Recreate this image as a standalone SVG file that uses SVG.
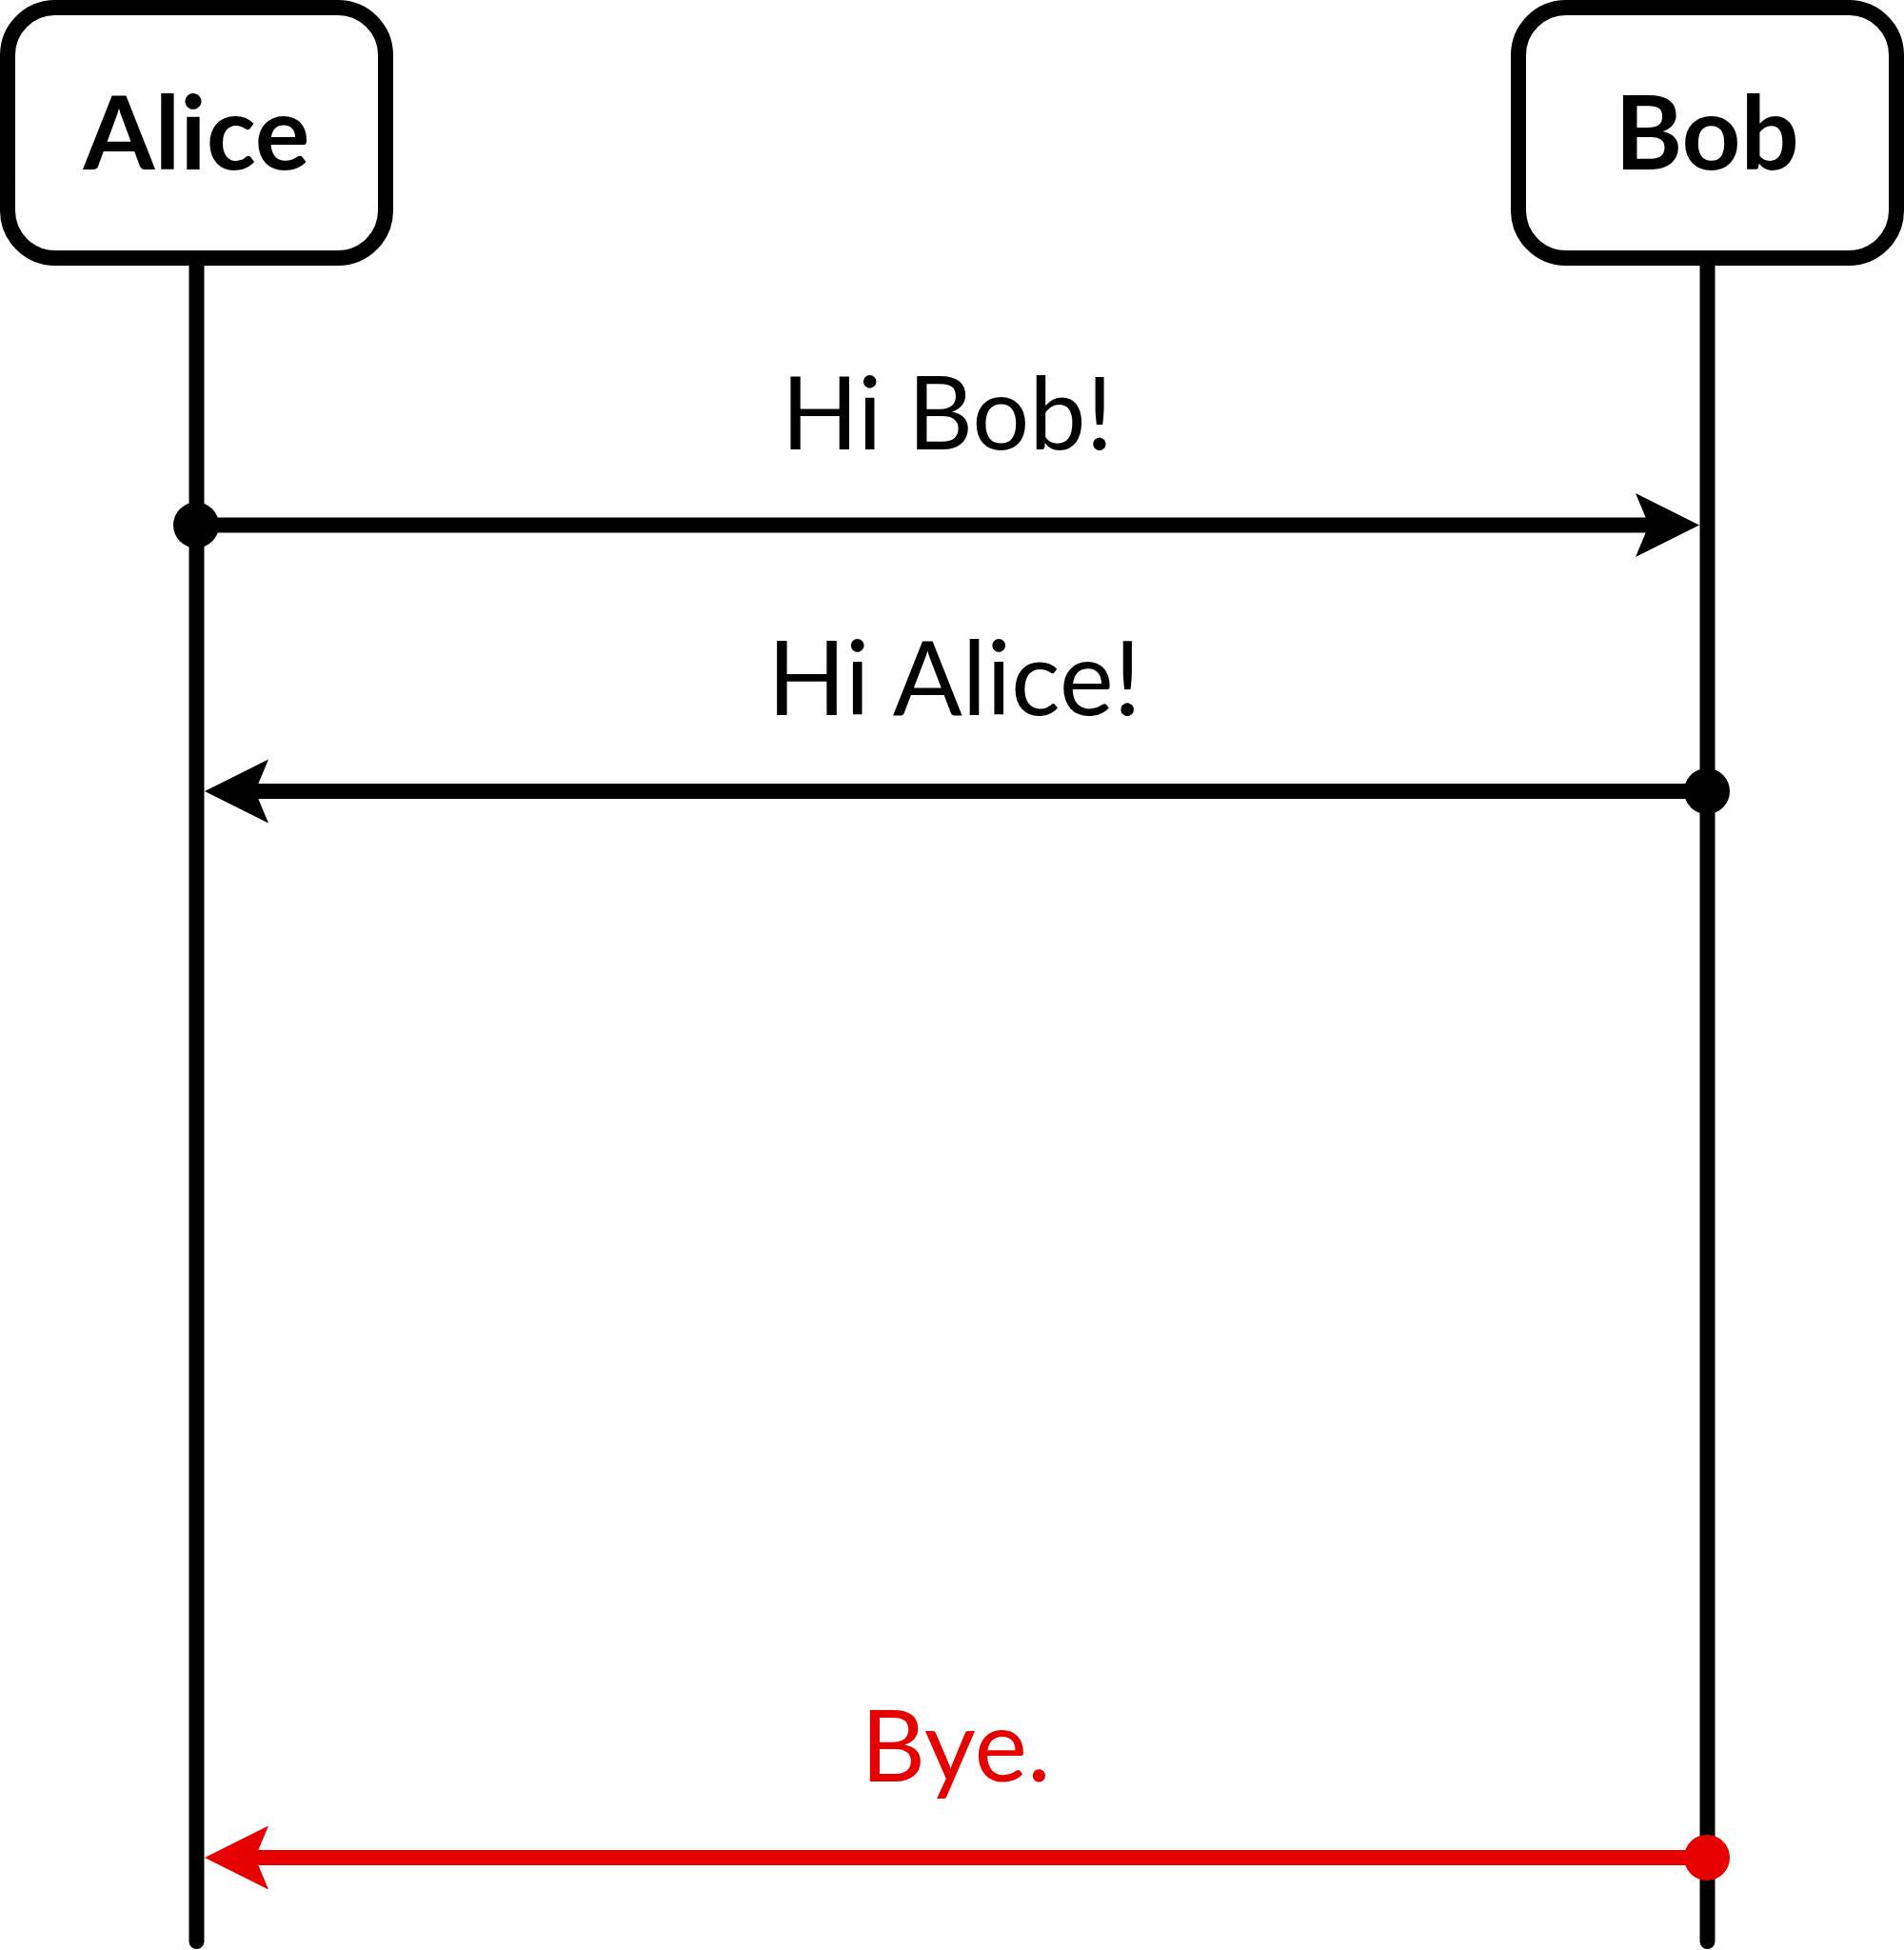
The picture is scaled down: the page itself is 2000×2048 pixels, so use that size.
<svg xmlns="http://www.w3.org/2000/svg" width="2000" height="2048" viewBox="0 0 2000 2048">
<defs>
<style>
.box{fill:#fff;stroke:#000;stroke-width:16}
.life{stroke:#000;stroke-width:16;stroke-linecap:round;fill:none}
.name{font-family:Lato,"Liberation Sans",sans-serif;font-weight:bold;font-size:108px;text-anchor:middle;fill:#000}
.lbl{font-family:Lato,"Liberation Sans",sans-serif;font-size:106px;text-anchor:middle}
.msg{stroke-width:16;fill:none}
</style>
</defs>
<rect width="2000" height="2048" fill="#fff"/>
<g id="lifelines">
<line class="life" x1="206.5" y1="271" x2="206.5" y2="2039"/>
<line class="life" x1="1793.5" y1="271" x2="1793.5" y2="2039"/>
</g>
<g id="alice">
<rect class="box" x="8" y="8" width="397" height="263" rx="50" ry="50"/>
<text class="name" x="206.5" y="178">Alice</text>
</g>
<g id="bob">
<rect class="box" x="1595" y="8" width="397" height="263" rx="50" ry="50"/>
<text class="name" x="1793" y="178">Bob</text>
</g>
<g id="connectors">
<g id="msg1">
<line class="msg" stroke="#000" x1="206.5" y1="551.5" x2="1740" y2="551.5"/>
<circle cx="206" cy="551.5" r="24" fill="#000"/>
<polygon points="1785,551.5 1718,518 1732,551.5 1718,585" fill="#000"/>
<text class="lbl" x="995" y="471.5" fill="#000">Hi Bob!</text>
</g>
<g id="msg2">
<line class="msg" stroke="#000" x1="1793.5" y1="831" x2="260" y2="831"/>
<circle cx="1793" cy="831" r="24" fill="#000"/>
<polygon points="215,831 282,797.5 268,831 282,864.5" fill="#000"/>
<text class="lbl" x="1002.5" y="751" fill="#000" style="font-size:108px">Hi Alice!</text>
</g>
<g id="msg3">
<line class="msg" stroke="#E60000" x1="1793.5" y1="1951" x2="260" y2="1951"/>
<circle cx="1793" cy="1951" r="24" fill="#E60000"/>
<polygon points="215,1951 282,1917.5 268,1951 282,1984.5" fill="#E60000"/>
<text class="lbl" x="1004" y="1870.5" fill="#E60000" style="font-size:105px">Bye.</text>
</g>
</g>
</svg>
